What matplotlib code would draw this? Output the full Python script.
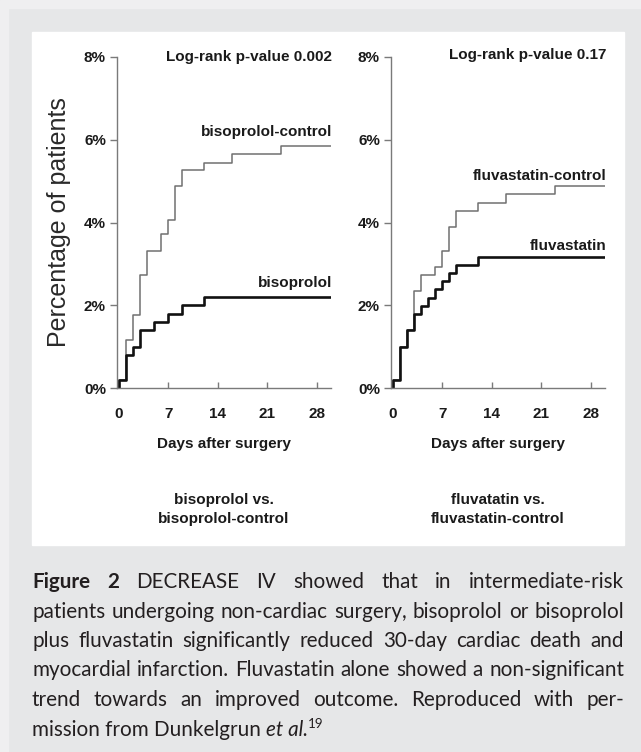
# Import needed libraries.
import numpy as np
import matplotlib
matplotlib.use('Agg')
import matplotlib.pyplot as plt
from matplotlib.patches import Rectangle

# Kaplan-Meier step data (day of step, cumulative % of patients).
biso_days = [0, 0, 1, 2, 3, 5, 7, 9, 12, 30]
biso_pct = [0, 0.2, 0.8, 1.0, 1.39, 1.59, 1.79, 2.0, 2.19, 2.19]
biso_ctrl_days = [0, 0, 1, 2, 3, 4, 6, 7, 8, 9, 12, 16, 23, 30]
biso_ctrl_pct = [0, 0.2, 1.17, 1.76, 2.73, 3.32, 3.71, 4.07, 4.88, 5.27, 5.45, 5.65, 5.85, 5.85]
fluva_days = [0, 0, 1, 2, 3, 4, 5, 6, 7, 8, 9, 12, 30]
fluva_pct = [0, 0.2, 1.0, 1.4, 1.79, 1.99, 2.18, 2.4, 2.59, 2.79, 2.97, 3.17, 3.17]
fluva_ctrl_days = [0, 0, 1, 2, 3, 4, 6, 7, 8, 9, 12, 16, 23, 30]
fluva_ctrl_pct = [0, 0.2, 1.0, 1.4, 2.35, 2.73, 2.93, 3.32, 3.90, 4.28, 4.48, 4.69, 4.88, 4.88]

x_ticks = [0, 7, 14, 21, 28]
y_ticks = [0, 2, 4, 6, 8]
y_labels = ['0%', '2%', '4%', '6%', '8%']

# Text of the two panels.
pvalues = ['Log-rank p-value 0.002', 'Log-rank p-value 0.17']
subtitles = [['bisoprolol vs.', 'bisoprolol-control'], ['fluvatatin vs.', 'fluvastatin-control']]

# Caption lines (all but the last are justified).
caption_lines = [
    'DECREASE IV showed that in intermediate-risk',
    'patients undergoing non-cardiac surgery, bisoprolol or bisoprolol',
    'plus fluvastatin significantly reduced 30-day cardiac death and',
    'myocardial infarction. Fluvastatin alone showed a non-significant',
    'trend towards an improved outcome. Reproduced with per-',
]

W, H = 641, 752
fig = plt.figure(figsize=(W / 100, H / 100), dpi=100, facecolor='#e6e7e8')

# Lighter border strips and white panel behind the plots.
fig.patches.append(Rectangle((0, 1 - 8 / H), 1, 8 / H, transform=fig.transFigure,
                             color='#efeff0', zorder=-3))
fig.patches.append(Rectangle((0, 0), 8 / W, 1, transform=fig.transFigure,
                             color='#efeff0', zorder=-3))
fig.patches.append(Rectangle((32 / W, 1 - 545 / H), 592 / W, 513 / H, transform=fig.transFigure,
                             color='white', zorder=-2))

bold = dict(family='Liberation Sans', weight='bold', size=11, color='#1a1a1a')
axis_gray = '#7a7a7a'

def make_axes(left_px):
    ax = fig.add_axes([left_px / W, 1 - 388 / H, 214 / W, 331 / H])
    ax.set_facecolor('none')
    ax.set_xlim(-0.25, 30)
    ax.set_ylim(0, 8)
    for s in ['top', 'right']:
        ax.spines[s].set_visible(False)
    for s in ['left', 'bottom']:
        ax.spines[s].set_color(axis_gray)
        ax.spines[s].set_linewidth(1.0)
    ax.set_xticks(x_ticks)
    ax.set_xticklabels([str(t) for t in x_ticks], fontdict=bold)
    ax.set_yticks(y_ticks)
    ax.set_yticklabels(y_labels, fontdict=bold)
    ax.tick_params(axis='x', direction='in', length=4, width=1.0, color=axis_gray, pad=14)
    ax.tick_params(axis='y', direction='out', length=5, width=1.0, color=axis_gray, pad=3)
    ax.text(0.5, -0.169, 'Days after surgery', transform=ax.transAxes,
            ha='center', va='center', **bold)
    return ax

# Left panel: bisoprolol vs. bisoprolol-control.
ax1 = make_axes(117)
ax1.plot(biso_ctrl_days, biso_ctrl_pct, drawstyle='steps-post', color='#707070', lw=1.1)
ax1.plot(biso_days, biso_pct, drawstyle='steps-post', color='#111111', lw=1.9)
ax1.text(30.2, 8.0, pvalues[0], ha='right', va='center', **bold)
ax1.text(30.2, 6.18, 'bisoprolol-control', ha='right', va='center', **bold)
ax1.text(30.2, 2.54, 'bisoprolol', ha='right', va='center', **bold)

# Right panel: fluvastatin vs. fluvastatin-control.
ax2 = make_axes(391)
ax2.plot(fluva_ctrl_days, fluva_ctrl_pct, drawstyle='steps-post', color='#707070', lw=1.1)
ax2.plot(fluva_days, fluva_pct, drawstyle='steps-post', color='#111111', lw=1.9)
ax2.text(30.2, 8.04, pvalues[1], ha='right', va='center', **bold)
ax2.text(30.2, 5.12, 'fluvastatin-control', ha='right', va='center', **bold)
ax2.text(30.2, 3.43, 'fluvastatin', ha='right', va='center', **bold)

# Subtitles under each panel.
for ax, sub in zip([ax1, ax2], subtitles):
    ax.text(0.5, -(500 - 388) / 331, sub[0], transform=ax.transAxes, ha='center', va='center', **bold)
    ax.text(0.5, -(519 - 388) / 331, sub[1], transform=ax.transAxes, ha='center', va='center', **bold)

# Shared y label.
fig.text(59 / W, 1 - 222 / H, 'Percentage of patients', rotation=90, ha='center', va='center',
         family='Liberation Sans', size=18, color='#2a2a2a')

# Caption, justified between x=32 and x=624 px.
renderer = fig.canvas.get_renderer()
cap_color = '#231f20'
cap_family = 'Lato'

def text_width(s, size, **kw):
    t = fig.text(0, 0, s, family=cap_family, size=size, **kw)
    w = t.get_window_extent(renderer).width
    t.remove()
    return w

# Pick a size so the widest line just fits.
line1_words = [('Figure', 'bold'), ('2', 'bold')] + [(w, 'normal') for w in caption_lines[0].split()]
all_lines = [line1_words] + [[(w, 'normal') for w in ln.split()] for ln in caption_lines[1:]]
ref = 10
sp10 = text_width('a a', ref) - text_width('aa', ref)
natural = []
for words in all_lines:
    natural.append(sum(text_width(w, ref, weight=wt) for w, wt in words) + sp10 * (len(words) - 1))
cap_size = ref * 588 / max(natural)

x0, x1 = 32, 624
baselines = [588, 617.5, 647, 676.5, 706, 735.5]
for words, yb in zip(all_lines, baselines):
    widths = [text_width(w, cap_size, weight=wt) for w, wt in words]
    gap = (x1 - x0 - sum(widths)) / (len(words) - 1)
    x = x0
    for (w, wt), wd in zip(words, widths):
        fig.text(x / W, 1 - yb / H, w, family=cap_family, size=cap_size, weight=wt,
                 color=cap_color, ha='left', va='baseline')
        x += wd + gap

# Last line, left aligned with natural spacing.
yb = baselines[-1]
x = x0
pieces = [('mission from Dunkelgrun\u00a0', 'normal', cap_size, 0), ('et al.', 'italic', cap_size, 0),
          ('19', 'normal', cap_size * 0.65, -7)]
for s, st, sz, dy in pieces:
    fig.text(x / W, 1 - (yb + dy) / H, s, family=cap_family, size=sz, style=st,
             color=cap_color, ha='left', va='baseline')
    x += text_width(s, sz, style=st)

# Save and close plot.
plt.savefig('out.png', dpi=100, facecolor=fig.get_facecolor())
plt.close()
